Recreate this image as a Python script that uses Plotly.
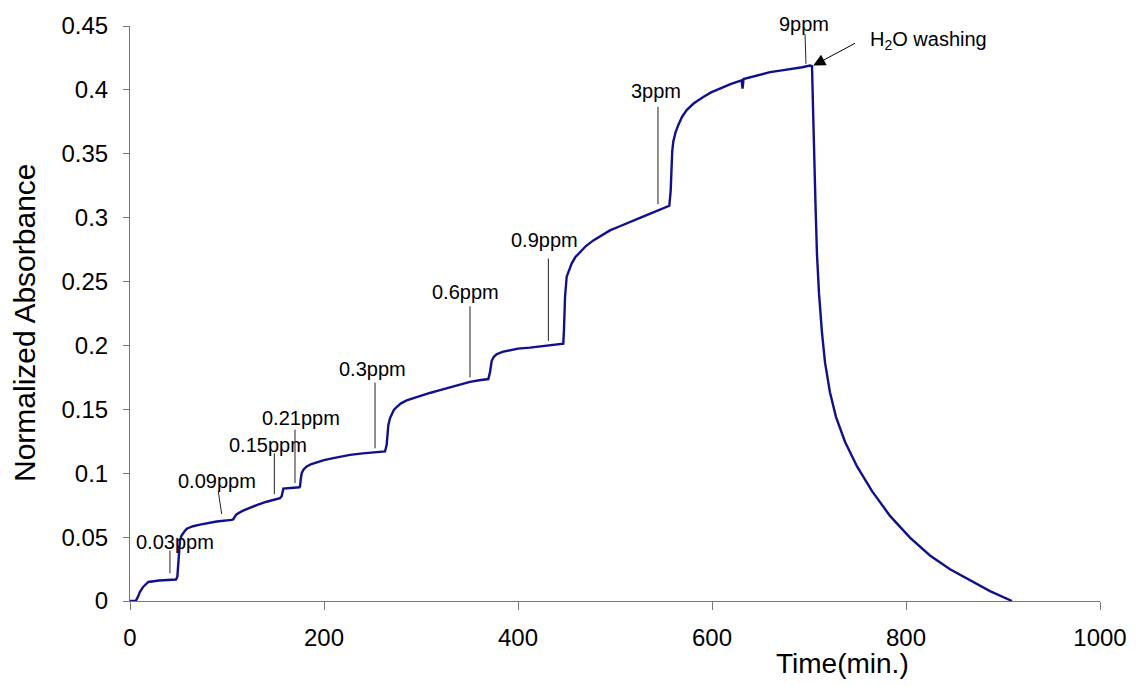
import plotly.graph_objects as go

# Absorbance trace: time (min) vs normalized absorbance
time_min = [
    0, 5.9, 8, 10.3, 13.5, 18.9, 30, 40, 47.4,
    48.8, 50.2, 51.5, 53, 55, 57, 59, 62, 65, 72.2, 80, 89.3, 104.8,
    106.5, 108, 110, 116, 123.7, 132, 140.9, 148, 154.6,
    156.4, 158.1, 174.6,
    175.3, 176, 177, 179, 182.2, 187, 192.5, 200, 209.6, 226.8, 240, 250.9, 262.9,
    264.6, 265.5, 266.3, 268, 269.8, 272, 274.9, 279, 285.2, 293, 302.4, 310,
    319.6, 333.3, 350.5, 360, 369.4,
    371.1, 372.9, 375, 377.9, 384, 391.8, 400, 412.4, 430, 446.7,
    447.4, 448.5, 450.2, 452.5, 455.3, 459, 463.9, 470, 477.7, 486, 494.8, 505,
    515.5, 527, 539.5, 548, 556,
    557.4, 558.4, 559, 560.1, 562.5, 565.3, 569, 573.9, 581, 591, 599, 608.2,
    619, 630.5, 631.5, 632.5, 645, 659.8, 672, 683.8, 693, 701, 702.8, 703.1,
    704.1, 705.2, 706.7, 708.2, 710.3, 713.4, 716.5, 721.6, 727.8, 737.1,
    749.5, 765, 783.5, 804.1, 824.7, 845.4, 866, 886.6, 909.3,
]
absorbance = [
    0, 0, 0.003, 0.0072, 0.011, 0.0149, 0.016, 0.0165, 0.0168,
    0.019, 0.0343, 0.0472, 0.051, 0.0534, 0.0553, 0.0568, 0.0578, 0.0585, 0.0598, 0.061, 0.0622, 0.0635,
    0.064, 0.066, 0.068, 0.0705, 0.073, 0.0755, 0.0777, 0.0792, 0.0805,
    0.082, 0.088, 0.089,
    0.0898, 0.095, 0.100, 0.103, 0.1053, 0.1072, 0.1087, 0.1102, 0.1118, 0.1144, 0.1155, 0.1162, 0.117,
    0.122, 0.130, 0.1376, 0.143, 0.1466, 0.1495, 0.1518, 0.1545, 0.157, 0.159, 0.1609, 0.163,
    0.165, 0.168, 0.1715, 0.1728, 0.1737,
    0.1789, 0.188, 0.191, 0.1931, 0.195, 0.1965, 0.1975, 0.1983, 0.1998, 0.2014,
    0.2125, 0.2383, 0.2538, 0.259, 0.2641, 0.269, 0.2732, 0.2778, 0.2822, 0.2862, 0.29, 0.2933,
    0.2964, 0.3003, 0.3042, 0.3068, 0.3093,
    0.3209, 0.3416, 0.352, 0.3596, 0.367, 0.3726, 0.3787, 0.3842, 0.3893, 0.3945, 0.398, 0.401,
    0.4045, 0.4075, 0.401, 0.4085, 0.411, 0.4139, 0.4153, 0.4164, 0.4177, 0.419, 0.419, 0.4185,
    0.3873, 0.3493, 0.3105, 0.2719, 0.2409, 0.2099, 0.1867, 0.1634, 0.1441, 0.1247,
    0.1053, 0.086, 0.0666, 0.0496, 0.0356, 0.0248, 0.0163, 0.0077, 0.0,
]

# Concentration labels and their leader lines (data coordinates)
conc_labels = ["0.03ppm", "0.09ppm", "0.15ppm", "0.21ppm", "0.3ppm",
               "0.6ppm", "0.9ppm", "3ppm", "9ppm"]
label_t = [46.4, 89.2, 142.7, 176.3, 250.5, 345.4, 426.8, 542.3, 695.0]
label_y = [0.0459, 0.0937, 0.1224, 0.1433, 0.1812, 0.2422, 0.2822, 0.3989, 0.4516]
lead_t0 = [41.2, 91.0, 148.8, 170.1, 252.6, 350.5, 431.3, 544.3, 695.9]
lead_y0 = [0.0395, 0.086, 0.1156, 0.134, 0.171, 0.2306, 0.268, 0.3867, 0.4436]
lead_t1 = [41.2, 94.5, 148.8, 170.1, 252.6, 350.5, 431.3, 544.3, 696.9]
lead_y1 = [0.0217, 0.068, 0.0836, 0.0924, 0.1195, 0.175, 0.2035, 0.3106, 0.4204]

# Washing marker
wash_text = "H<sub>2</sub>O washing"
wash_t, wash_y = 823.7, 0.4384
wash_tail = (749.0, 0.4371)
wash_head = (704.4, 0.419)

Y_MAX = 0.45
FONT = "Liberation Sans, Arial, sans-serif"

fig = go.Figure()
fig.add_trace(go.Scatter(
    x=time_min, y=absorbance, mode="lines",
    line=dict(color="#10108c", width=2.4),
    hoverinfo="skip", showlegend=False,
))

for i, txt in enumerate(conc_labels):
    fig.add_shape(type="line", xref="x", yref="y",
                  x0=lead_t0[i], y0=lead_y0[i], x1=lead_t1[i], y1=lead_y1[i],
                  line=dict(color="#222222", width=1))
    # labels above the axis range are placed in paper units so they stay visible
    if label_y[i] > Y_MAX:
        yref, yval = "paper", label_y[i] / Y_MAX
    else:
        yref, yval = "y", label_y[i]
    fig.add_annotation(x=label_t[i], y=yval, xref="x", yref=yref,
                       text=txt, showarrow=False,
                       xanchor="center", yanchor="middle",
                       font=dict(family=FONT, size=20, color="black"))

fig.add_annotation(x=wash_head[0], y=wash_head[1], ax=wash_tail[0], ay=wash_tail[1],
                   xref="x", yref="y", axref="x", ayref="y", text="",
                   showarrow=True, arrowhead=2, arrowsize=2.4, arrowwidth=1,
                   arrowcolor="black")
fig.add_annotation(x=wash_t, y=wash_y, xref="x", yref="y", text=wash_text,
                   showarrow=False, xanchor="center", yanchor="middle",
                   font=dict(family=FONT, size=20, color="black"))

# Axis titles
fig.add_annotation(x=-0.1082, y=0.4836, xref="paper", yref="paper",
                   text="Normalized Absorbance", textangle=-90, showarrow=False,
                   xanchor="center", yanchor="middle",
                   font=dict(family=FONT, size=30, color="black"))
fig.add_annotation(x=0.735, y=-0.1084, xref="paper", yref="paper",
                   text="Time(min.)", showarrow=False,
                   xanchor="center", yanchor="middle",
                   font=dict(family=FONT, size=28, color="black"))

fig.update_layout(
    width=1140, height=686,
    margin=dict(l=130, r=40, t=20, b=85),
    plot_bgcolor="white", paper_bgcolor="white",
    font=dict(family=FONT, size=24, color="black"),
)
fig.update_xaxes(
    range=[0, 1000], dtick=200, tick0=0,
    showline=True, linecolor="#777777", linewidth=1,
    ticks="outside", ticklen=8, tickcolor="#777777", tickwidth=1,
    showgrid=False, zeroline=False, ticklabelstandoff=7,
)
fig.update_yaxes(
    range=[0, Y_MAX], dtick=0.05, tick0=0,
    showline=True, linecolor="#777777", linewidth=1,
    ticks="outside", ticklen=6, tickcolor="#777777", tickwidth=1,
    showgrid=False, zeroline=False, ticklabelstandoff=10,
)

fig.write_html("out.html")
